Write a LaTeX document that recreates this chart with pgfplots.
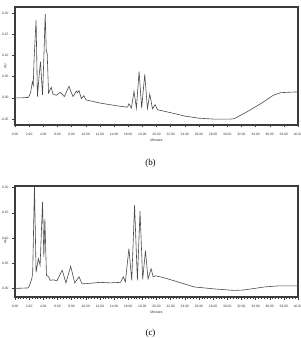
\documentclass[border=0pt]{standalone}
\usepackage{fontspec}
\setmainfont{Liberation Serif}
\newfontfamily\sans{Liberation Sans}
\usepackage{pgfplots}
\pgfplotsset{compat=1.18}
\definecolor{tracegray}{HTML}{4A4A4A}
\definecolor{boxgray}{HTML}{3C3C3C}
\pgfplotsset{chrom/.style={
  scale only axis, width=283bp, xmin=0, xmax=40,
  axis line style={draw=boxgray, line width=1.2pt},
  tick style={draw=boxgray, line width=0.4pt},
  major tick length=2.5bp, minor tick length=1.5bp,
  tick align=outside, xtick pos=bottom, ytick pos=left,
  xtick={0,2,...,40}, minor x tick num=4,
  ytick={-0.05,0,0.05,0.1,0.15,0.2},
  ticklabel style={font=\sans\fontsize{3.3}{4}\selectfont, text=black!80},
  /pgf/number format/assume math mode=true,
  /pgf/number format/.cd, fixed, fixed zerofill, precision=2, /tikz/.cd,
  xticklabel style={yshift=-2bp},
  yticklabel style={xshift=-0.5bp},
  xlabel={Minutes}, ylabel={AU},
  label style={font=\sans\fontsize{3.5}{4}\selectfont, text=black!80},
  xlabel style={yshift=3bp},
  ylabel style={at={(axis description cs:-0.035,0.5)}, anchor=center, rotate=0},
  clip=false,
}}
\begin{document}
\begin{tikzpicture}
\useasboundingbox (0,0) -- (301bp,0) -- (301bp,338bp) -- (0,338bp) -- cycle;
\begin{axis}[chrom, at={(15bp,213bp)}, anchor=south west, height=118bp,
  ymin=-0.064, ymax=0.214]
\addplot[draw=boxgray, line width=1.2pt, forget plot] coordinates {
(0,-0.064) (40,-0.064) (40,0.214) (0,0.214) (0,-0.064)};
\addplot[draw=tracegray, line width=0.6pt] coordinates {
(0,0.0) (1.0,0.0) (1.9,0.001) (2.2,0.012) (2.46,0.038) (2.58,0.03) (2.7,0.093)
(2.98,0.183) (3.17,0.003) (3.4,0.05) (3.6,0.085) (3.89,0.007) (4.05,0.08)
(4.27,0.198) (4.42,0.11) (4.55,0.105) (4.74,0.011) (5.12,0.025) (5.36,0.009)
(5.83,0.006) (6.4,0.013) (6.97,0.003) (7.3,0.015) (7.63,0.027) (7.9,0.015)
(8.2,0.003) (8.67,0.016) (8.85,0.012) (9.05,0.017) (9.38,-0.002) (9.72,0.005)
(10.05,-0.005) (12.1,-0.0125) (14.45,-0.019) (15.9,-0.022) (16.1,-0.014)
(16.45,-0.024) (16.82,0.015) (17.16,-0.024) (17.54,0.062) (17.9,-0.024)
(18.34,0.055) (18.72,-0.025) (19.05,0.009) (19.43,-0.026) (19.8,-0.016)
(20.14,-0.028) (22,-0.035) (24,-0.043) (26,-0.048) (28,-0.050) (30.5,-0.050)
(31,-0.049) (33,-0.031) (35,-0.011) (36.5,0.006) (37.5,0.012) (38.5,0.013) (40,0.014)
};
\end{axis}
\begin{axis}[chrom, at={(15bp,41bp)}, anchor=south west, height=111bp,
  ymin=-0.017, ymax=0.203]
\addplot[draw=boxgray, line width=1.2pt, forget plot] coordinates {
(0,-0.017) (40,-0.017) (40,0.203) (0,0.203) (0,-0.017)};
\addplot[draw=tracegray, line width=0.6pt] coordinates {
(0,0.0) (1.9,0.001) (2.13,0.009) (2.37,0.019) (2.5,0.03) (2.75,0.203) (2.98,0.032)
(3.3,0.059) (3.55,0.046) (3.89,0.171) (4.08,0.062) (4.22,0.138) (4.45,0.026)
(4.74,0.023) (4.98,0.016) (5.45,0.017) (5.92,0.015) (6.68,0.036) (7.2,0.011)
(7.87,0.044) (8.44,0.011) (9.05,0.023) (9.48,0.009) (10.5,0.010) (12,0.012)
(13.5,0.011) (14.9,0.012) (15.3,0.023) (15.6,0.013) (16.1,0.079) (16.5,0.016)
(16.9,0.165) (17.3,0.016) (17.67,0.153) (18.05,0.018) (18.44,0.075) (18.8,0.019)
(19.24,0.039) (19.53,0.023) (19.9,0.025) (21.1,0.021) (23,0.013) (25.3,0.003)
(28.2,-0.001) (31,-0.004) (32.4,-0.003) (35.3,0.003) (37.2,0.005) (40,0.005)
};
\end{axis}
\node[font=\fontsize{9}{10}\selectfont] at (150.5bp,175bp) {(b)};
\node[font=\fontsize{9}{10}\selectfont] at (150.5bp,5bp) {(c)};
\end{tikzpicture}
\end{document}
